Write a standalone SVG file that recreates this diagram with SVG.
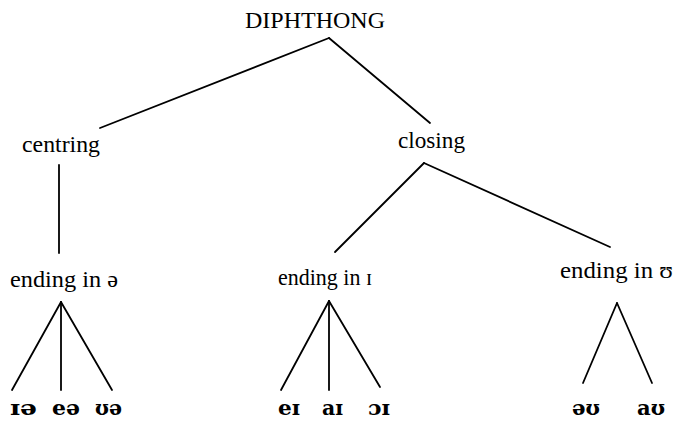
<svg xmlns="http://www.w3.org/2000/svg" width="678" height="422" viewBox="0 0 678 422">
<style>
.lbl{font-family:"Liberation Serif","DejaVu Serif",serif;font-size:24px;fill:#000}
.ipa{font-family:"DejaVu Serif","Liberation Serif",serif;font-size:21px;font-weight:bold;fill:#000}
.edge{stroke:#000;stroke-width:1.8;fill:none;stroke-linecap:round}
</style>
<rect width="678" height="422" fill="#fff"/>
<g id="connectors">
<line class="edge" x1="329" y1="38" x2="100" y2="128"/>
<line class="edge" x1="329" y1="38" x2="430" y2="123"/>
<line class="edge" x1="59" y1="165" x2="59" y2="253"/>
<line class="edge" x1="424" y1="163" x2="335" y2="252"/>
<line class="edge" x1="424" y1="163" x2="610" y2="247"/>
<line class="edge" x1="61" y1="302" x2="12" y2="390"/>
<line class="edge" x1="61" y1="302" x2="61" y2="390"/>
<line class="edge" x1="61" y1="302" x2="112" y2="390"/>
<line class="edge" x1="329" y1="301" x2="281" y2="390"/>
<line class="edge" x1="329" y1="301" x2="329" y2="390"/>
<line class="edge" x1="329" y1="301" x2="380" y2="387"/>
<line class="edge" x1="617" y1="303" x2="583" y2="383"/>
<line class="edge" x1="617" y1="303" x2="652" y2="383"/>
</g>
<g id="diphthong"><text class="lbl" x="245" y="28" textLength="140" lengthAdjust="spacingAndGlyphs">DIPHTHONG</text></g>
<g id="centring"><text class="lbl" x="22" y="152" textLength="78" lengthAdjust="spacingAndGlyphs">centring</text></g>
<g id="closing"><text class="lbl" x="398" y="148" textLength="67" lengthAdjust="spacingAndGlyphs">closing</text></g>
<g id="ending-schwa"><text class="lbl" x="10" y="287" textLength="108" lengthAdjust="spacingAndGlyphs">ending in ə</text></g>
<g id="ending-i"><text class="lbl" x="278" y="285" textLength="94" lengthAdjust="spacingAndGlyphs">ending in ɪ</text></g>
<g id="ending-u"><text class="lbl" x="560" y="278" textLength="113" lengthAdjust="spacingAndGlyphs">ending  in ʊ</text></g>
<g id="ie"><text class="ipa" x="10" y="415" textLength="27" lengthAdjust="spacingAndGlyphs">ɪə</text></g>
<g id="ee"><text class="ipa" x="52" y="415" textLength="28" lengthAdjust="spacingAndGlyphs">eə</text></g>
<g id="ue"><text class="ipa" x="95" y="415" textLength="27" lengthAdjust="spacingAndGlyphs">ʊə</text></g>
<g id="ei"><text class="ipa" x="278" y="415" textLength="22" lengthAdjust="spacingAndGlyphs">eɪ</text></g>
<g id="ai"><text class="ipa" x="322" y="415" textLength="21" lengthAdjust="spacingAndGlyphs">aɪ</text></g>
<g id="oi"><text class="ipa" x="368" y="415" textLength="22" lengthAdjust="spacingAndGlyphs">ɔɪ</text></g>
<g id="eu"><text class="ipa" x="572" y="415" textLength="28" lengthAdjust="spacingAndGlyphs">əʊ</text></g>
<g id="au"><text class="ipa" x="637" y="415" textLength="28" lengthAdjust="spacingAndGlyphs">aʊ</text></g>
</svg>
